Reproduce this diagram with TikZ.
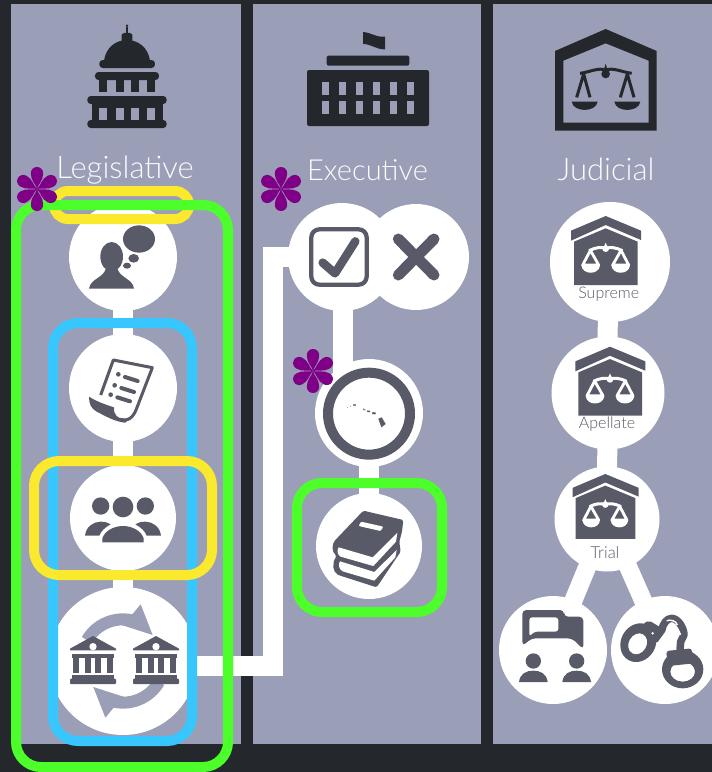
\documentclass[tikz,border=0pt]{standalone}
\usepackage{fontspec}
\setmainfont{Lato Light}
\pgfdeclarelayer{back}
\pgfdeclarelayer{conn}
\pgfdeclarelayer{boxes}
\pgfdeclarelayer{stars}
\pgfsetlayers{back,conn,main,boxes,stars}
\definecolor{panel}{HTML}{9A9EB6}
\definecolor{ink}{HTML}{24282C}
\definecolor{slate}{HTML}{585A68}
\definecolor{hlgreen}{HTML}{4CFF2B}
\definecolor{hlblue}{HTML}{38C6FF}
\definecolor{hlyellow}{HTML}{FBE92E}
\definecolor{starpurple}{HTML}{7F0087}
\tikzset{
  px/.style={x=1pt,y=-1pt},
  zm/.style={x=0.33333pt,y=-0.33333pt},
  panelbox/.style={fill=panel,draw=none},
  disc/.style={circle,fill=white,draw=none,inner sep=0pt,minimum size=#1},
  link/.style={draw=white,line width=20pt},
  hlbox/.style={draw=#1,line width=10pt,rounded corners=25pt,fill=none},
  heading/.style={text=white!96!panel,font=\fontsize{#1}{34}\selectfont,inner sep=0pt,anchor=base},
  courtlabel/.style={text=slate,font=\fontsize{#1}{18}\selectfont,inner sep=0pt,anchor=base},
}
% six petalled mark
\newcommand{\petalstar}[1]{%
  \begin{scope}[shift={#1}]
    \foreach \a in {0,60,...,300}{
      \fill[starpurple,rotate=\a] (0,0) .. controls (1.2,-5) and (6.2,-8.5) .. (6.2,-15.5)
        .. controls (6.2,-19.5) and (3.4,-22) .. (0,-22)
        .. controls (-3.4,-22) and (-6.2,-19.5) .. (-6.2,-15.5)
        .. controls (-6.2,-8.5) and (-1.2,-5) .. (0,0) -- cycle;
    }
  \end{scope}}
% court house with white scales; apex at #1, scale factor #2
\newcommand{\courticon}[2]{%
  \begin{scope}[shift={#1},x=#2*0.33333pt,y=-#2*0.33333pt]
    \fill[slate] (-104,44) -- (0,0) -- (106,44) -- (106,72) -- (0,27) -- (-104,74) -- cycle;
    \fill[slate] (-95,77) -- (0,37) -- (96,77) -- (96,207) -- (-95,207) -- cycle;
    \draw[white,line width=3pt] (-50,104) .. controls (-30,94) and (-12,92) .. (0,98) .. controls (12,92) and (30,94) .. (50,104);
    \fill[white] (0,98) circle [radius=10];
    \fill[white] (-5,92) -- (0,80) -- (5,92) -- cycle;
    \foreach \s in {-1,1}{
      \draw[white,line width=2.8pt,line join=round] (\s*46,103) -- (\s*69,147) -- (\s*21,147) -- cycle;
      \fill[white] (\s*73,147) .. controls (\s*71,178) and (\s*19,178) .. (\s*17,147) -- cycle;
    }
  \end{scope}}
% small bank used twice; apex at #1
\newcommand{\bankicon}[1]{%
  \begin{scope}[shift={#1},zm]
    \fill[slate] (-69,38) -- (0,0) -- (69,38) -- (69,43) -- (-69,43) -- cycle;
    \fill[white] (0,32) circle [radius=11];
    \fill[slate] (-62,55) rectangle (62,65);
    \foreach \c in {-50,-16,16,50}{ \fill[slate] (\c-9,65) rectangle (\c+9,112); }
    \fill[slate] (-62,118) rectangle (62,128);
    \fill[slate,rounded corners=1pt] (-69,128) rectangle (69,144);
  \end{scope}}
\begin{document}
\begin{tikzpicture}[px]
\useasboundingbox (0,0) rectangle (712,772);
\begin{pgfonlayer}{back}
  \fill[ink] (0,0) rectangle (712,772);
  \fill[panelbox] (11,4) rectangle (241,744);
  \fill[panelbox] (253,4) rectangle (481,744);
  \fill[panelbox] (493,4) rectangle (712,744);
\end{pgfonlayer}

% headings
\node[heading=31] (hleg) at (125,178) {Legislative};
\node[heading=29] (hexe) at (367.5,180) {Executive};
\node[heading=31] (hjud) at (606,180) {Judicial};

% discs
\node[disc=108pt] (thought) at (123,257) {};
\node[disc=108pt] (doc) at (123,388) {};
\node[disc=106pt] (people) at (123,518) {};
\node[disc=148pt] (banks) at (123,661) {};
\node[disc=108pt] (check) at (342,257) {};
\node[disc=106pt] (cross) at (416,257) {};
\node[disc=108pt] (hawaii) at (369,413) {};
\node[disc=106pt] (books) at (369,546) {};
\node[disc=120pt] (supreme) at (610,262) {};
\node[disc=113pt] (apellate) at (608,393) {};
\node[disc=105pt] (trial) at (607,519) {};
\node[disc=108pt] (talk) at (553,650) {};
\node[disc=108pt] (cuffs) at (665,650) {};
\coordinate (turnA) at (273,666);
\coordinate (turnB) at (273,257);

% connectors
\begin{pgfonlayer}{conn}
  \draw[link] (thought.center) -- (doc.center);
  \draw[link] (doc.center) -- (people.center);
  \draw[link] (people.center) -- (banks.center);
  \draw[link,miter limit=10] (banks.center |- turnA) -- (turnA) -- (turnB) -- (check.center);
  \draw[link] ([xshift=1pt]check.center) -- ([xshift=1pt]check.center |- hawaii.center);
  \draw[link] (hawaii.center) -- (books.center);
  \draw[link] (apellate.center |- supreme.center) -- (trial.center);
  \draw[link,line width=18pt] (trial.center) -- (talk.center);
  \draw[link,line width=18pt] (trial.center) -- (cuffs.center);
\end{pgfonlayer}

% capitol
\begin{scope}[zm]
  \fill[ink] (312,182) .. controls (318,140) and (350,120) .. (381,120) .. controls (412,120) and (444,140) .. (450,182) -- cycle;
  \fill[ink,rounded corners=3.5pt] (298,180) rectangle (465,204);
  \fill[ink] (365,125) -- (365,104) .. controls (368,96) and (394,96) .. (397,104) -- (397,125) -- cycle;
  \fill[ink] (378,98) rectangle (384,80);
  \fill[ink] (381,77) circle [radius=4];
  \fill[ink,rounded corners=3.5pt] (285,216) rectangle (477,240);
  \foreach \c in {298,347,394,441}{ \fill[ink] (\c,236) rectangle (\c+24,276); }
  \fill[ink,rounded corners=3.5pt] (262,288) rectangle (500,312);
  \fill[ink] (275,308) rectangle (488,364);
  \foreach \c in {298,347,394,441}{ \fill[panel] (\c,323) rectangle (\c+24,360); }
  \fill[ink,rounded corners=3.5pt] (262,360) rectangle (500,384);
\end{scope}

% executive building
\begin{scope}[shift={(250,0)},zm]
  \fill[ink] (339,96) .. controls (365,98) and (375,112) .. (405,110) -- (405,148) .. controls (378,149) and (365,132) .. (339,132) -- cycle;
  \fill[ink,rounded corners=2pt] (230,167) rectangle (478,197);
  \fill[ink,rounded corners=2pt] (171,210) rectangle (537,378);
  \foreach \c in {215,266,317,368,420,471}{
    \fill[panel] (\c,247) rectangle (\c+22,285);
    \fill[panel] (\c,304) rectangle (\c+22,342);
  }
\end{scope}

% judicial house
\begin{scope}[shift={(490,0)},zm]
  \fill[ink,even odd rule] (195,153) -- (347,87) -- (500,153) -- (500,392) -- (195,392) -- cycle
     (220,182) -- (347,130) -- (476,182) -- (476,368) -- (220,368) -- cycle;
  \draw[ink,line width=3pt] (270,220) .. controls (300,216) and (325,202) .. (347,210) .. controls (370,202) and (395,216) .. (425,220);
  \fill[ink] (347,222) circle [radius=13];
  \fill[ink] (341,212) -- (347,191) -- (353,212) -- cycle;
  \draw[ink,line width=3pt,line join=round] (260,292) -- (281,222) -- (300,292);
  \draw[ink,line width=3pt,line join=round] (391,292) -- (412,222) -- (432,292);
  \foreach \c in {284,412}{
    \fill[ink] (\c-39,305) .. controls (\c-34,338) and (\c+34,338) .. (\c+39,305) -- cycle;
  }
\end{scope}

% thought icon
\begin{scope}[zm]
  \fill[slate] (335,770) circle [x radius=34,y radius=44];
  \fill[slate] (267,866) .. controls (272,835) and (310,835) .. (318,805) -- (352,805) .. controls (360,835) and (398,835) .. (402,866) -- cycle;
  \fill[slate] (417,717) circle [x radius=48,y radius=41];
  \fill[slate] (401,775) circle [x radius=16,y radius=13];
  \fill[slate] (381,797) circle [x radius=12,y radius=9];
\end{scope}

% scroll icon
\begin{scope}[shift={(0,320)},zm]
  \draw[slate,line width=3pt,line join=round] (302,225) -- (340,120) -- (457,143) -- (410,265) .. controls (398,300) and (375,305) .. (360,298);
  \fill[slate] (267,230) .. controls (290,245) and (320,255) .. (342,262) .. controls (340,285) and (355,298) .. (372,295) .. controls (380,298) and (385,305) .. (375,308) .. controls (345,305) and (320,290) .. (290,275) .. controls (272,265) and (267,250) .. (267,230) -- cycle;
  \foreach \x/\y in {355/163,344/196,332/224}{
    \fill[slate] (\x,\y) circle [radius=7];
    \draw[slate,line width=4pt,line cap=round] (\x+20,\y+8) -- (\x+58,\y+20);
  }
\end{scope}

% people icon
\begin{scope}[shift={(0,320)},zm]
  \fill[slate] (302,558) circle [radius=26];
  \fill[slate] (369,561) circle [radius=31];
  \fill[slate] (436,558) circle [radius=26];
  \fill[slate] (255,647) .. controls (258,620) and (280,605) .. (302,605) .. controls (315,605) and (325,608) .. (332,613) .. controls (315,622) and (303,633) .. (298,647) -- cycle;
  \fill[slate] (483,647) .. controls (480,620) and (458,605) .. (436,605) .. controls (423,605) and (413,608) .. (406,613) .. controls (423,622) and (435,633) .. (440,647) -- cycle;
  \fill[slate] (307,667) -- (307,655) .. controls (315,630) and (345,618) .. (369,618) .. controls (393,618) and (423,630) .. (431,655) -- (431,667) -- cycle;
\end{scope}

% circular arrows and banks
\begin{scope}[shift={(0,320)},zm]
  \foreach \r in {0,180}{
    \begin{scope}[rotate around={\r:(369,1023)}]
      \draw[panel,line width=12pt] (369,1023) ++(210:125) arc [start angle=210,end angle=282,radius=125];
      \fill[panel] (422,853) -- (458,945) -- (365,915) -- (397,883) -- cycle;
    \end{scope}
  }
\end{scope}
\bankicon{(93,636)}
\bankicon{(156,636)}

% check and cross icons
\begin{scope}[shift={(250,0)},zm]
  \draw[slate,line width=4.3pt,rounded corners=8pt] (184,688) rectangle (350,854);
  \draw[slate,line width=8.5pt,line cap=round,line join=round] (218,788) -- (255,820) -- (316,724);
  \draw[slate,line width=11pt,line cap=round] (445,717) -- (552,825);
  \draw[slate,line width=11pt,line cap=round] (552,717) -- (445,825);
\end{scope}

% Hawaii ring and islands
\begin{scope}[shift={(280,340)},zm]
  \draw[slate,line width=10pt] (267,221) circle [radius=123];
  \fill[slate] (295,236) -- (305,232) -- (317,252) -- (304,262) -- cycle;
  \fill[slate] (278,216) -- (288,218) -- (286,223) -- (276,222) -- cycle;
  \fill[slate] (262,211) -- (271,213) -- (269,217) -- (261,215) -- cycle;
  \fill[slate!70!white] (250,205) -- (257,209) -- (255,212) -- (249,209) -- cycle;
  \fill[slate!70!white] (218,193) rectangle (227,199);
  \fill[slate!50!white] (209,198) rectangle (213,202);
  \fill[slate!50!white] (202,202) rectangle (205,205);
\end{scope}

% books icon
\begin{scope}[shift={(280,340)},zm]
  \fill[slate,rounded corners=1.5pt] (250,512) -- (370,540) -- (366,575) -- (358,605) -- (362,635) -- (290,742) -- (178,706) .. controls (158,697) and (155,670) .. (170,648) .. controls (155,635) and (155,612) .. (168,598) -- cycle;
  \fill[white] (176,622) -- (278,652) -- (352,578) -- (348,605) -- (280,678) -- (182,650) .. controls (172,645) and (170,630) .. (176,622) -- cycle;
  \fill[white] (180,664) -- (283,696) -- (350,630) -- (346,652) -- (283,722) -- (188,694) .. controls (176,688) and (174,672) .. (180,664) -- cycle;
  \fill[white,rounded corners=1pt] (243,545) -- (310,560) -- (302,573) -- (236,558) -- cycle;
\end{scope}

% courts
\courticon{(605.7,216)}{1}
\courticon{(610,346.7)}{1}
\courticon{(605.3,474)}{0.94}
\node[courtlabel=16] (lsup) at (608.7,298) {Supreme};
\node[courtlabel=16] (lapp) at (607,428) {Apellate};
\node[courtlabel=16.5] (ltri) at (605,558) {Trial};

% speech icon
\begin{scope}[shift={(490,330)},zm]
  \fill[slate,rounded corners=4pt] (97,948) -- (97,840) -- (222,840) -- (222,860) -- (280,860) -- (280,958) -- (246,925) -- (125,925) -- cycle;
  \fill[white,rounded corners=3pt] (118,920) -- (118,862) -- (205,862) -- (205,905) -- (132,905) -- cycle;
  \foreach \c in {130,260}{
    \fill[slate] (\c,993) circle [radius=23];
    \fill[slate] (\c-43,1056) .. controls (\c-40,1030) and (\c-20,1022) .. (\c,1022) .. controls (\c+20,1022) and (\c+40,1030) .. (\c+43,1056) -- cycle;
  }
\end{scope}

% handcuffs
\begin{scope}[shift={(610,600)},zm]
  \fill[slate,even odd rule,rotate around={-30:(85,128)}] (85,128) circle [x radius=52,y radius=60]
       (85,132) circle [x radius=27,y radius=33];
  \fill[slate,rounded corners=2pt] (100,70) -- (118,62) -- (168,92) -- (140,130) -- (118,105) -- cycle;
  \draw[slate,line width=7.5pt,line join=round] (155,92) .. controls (158,72) and (170,55) .. (185,55) .. controls (205,55) and (222,85) .. (222,105) -- (212,125) -- (210,150);
  \draw[white,line width=1.4pt] (170,62) .. controls (182,58) and (198,62) .. (202,75);
  \draw[white,line width=1.4pt] (204,88) -- (212,104);
  \fill[slate,rounded corners=3pt] (168,153) -- (245,145) -- (252,190) -- (175,198) -- cycle;
  \fill[white] (209,165) circle [radius=5];
  \fill[white] (128,100) circle [radius=4];
  \fill[slate,even odd rule] (218,208) circle [x radius=62,y radius=57]
       (218,215) circle [x radius=37,y radius=30];
\end{scope}

% highlight boxes
\begin{pgfonlayer}{boxes}
  \draw[hlbox=hlyellow,rounded corners=14pt] (54,191) rectangle (189,219);
  \draw[hlbox=hlgreen] (16,205) rectangle (228,767);
  \draw[hlbox=hlblue] (53,323) rectangle (192,741);
  \draw[hlbox=hlyellow] (34,461) rectangle (212,575);
  \draw[hlbox=hlgreen] (297,483) rectangle (442,612);
\end{pgfonlayer}

\begin{pgfonlayer}{stars}
  \petalstar{(37,189)}
  \petalstar{(281,189)}
  \petalstar{(313,371)}
\end{pgfonlayer}
\end{tikzpicture}
\end{document}
